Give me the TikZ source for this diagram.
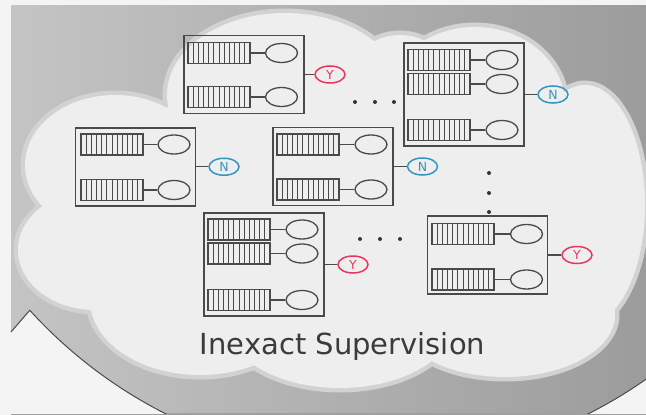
\documentclass[tikz,border=0pt]{standalone}
\usepackage{fontspec}
\setmainfont{DejaVu Sans}
\usepackage{tikz}
\usetikzlibrary{shapes.geometric}
\definecolor{ink}{HTML}{4A4A4A}
\definecolor{paper}{HTML}{F4F4F4}
\definecolor{fog}{HTML}{EEEEEE}
\definecolor{haze}{HTML}{D2D2D2}
\definecolor{bgl}{HTML}{C4C4C4}
\definecolor{bgr}{HTML}{9C9C9C}
\definecolor{yred}{HTML}{E8375E}
\definecolor{nblue}{HTML}{3595BD}

\begin{document}
\begin{tikzpicture}[x=1pt,y=-1pt,
 box/.style={rectangle,draw=ink,line width=1.6pt,inner sep=0pt,minimum width=120},
 pair/.style={box,minimum height=78},
 trio/.style={box,minimum height=103},
 queue/.style={rectangle,draw=ink,line width=1.3pt,inner sep=0pt,
 minimum width=62,minimum height=21,
 path picture={\foreach \k in {1,...,11}{
 \draw[ink,line width=0.9pt] ([xshift=\k*5.1667pt]path picture bounding box.south west)
 -- ([xshift=\k*5.1667pt]path picture bounding box.north west);}}},
 unit/.style={ellipse,draw=ink,line width=1.3pt,inner sep=0pt,minimum width=32,minimum height=19},
 ylab/.style={ellipse,draw=yred,text=yred,line width=1.5pt,inner sep=0pt,
 minimum width=30,minimum height=17,font=\fontsize{12.5}{13}\selectfont},
 nlab/.style={ylab,draw=nblue,text=nblue},
 link/.style={draw=ink,line width=1.3pt}]
\useasboundingbox (0,0) rectangle (646,415);
% backdrop
\fill[paper] (0,0) rectangle (646,415);
\shade[left color=bgl,right color=bgr] (11,5) rectangle (646,413);
\fill[gray!75] (11,413) rectangle (646,415);
\begin{scope}
 \clip (11,5) rectangle (646,413);
 \clip (11,332) -- (30,310) -- (700,-420) -- (700,500) -- (11,500) -- cycle;
 \fill[paper,even odd rule] (0,0) rectangle (646,415) (377,-5) circle[radius=469];
 \draw[ink,line width=1pt] (377,-5) circle[radius=469];
\end{scope}
\draw[ink,line width=1pt] (11,332) -- (30,310);
% cloud
\foreach \cx/\cy/\rx/\ry in {115/165/90/70,95/250/77/60,200/300/110/75,340/320/115/68,
 505/315/110/62,585/205/60/120,475/105/90/78,285/95/118/82,400/80/50/45,330/210/250/135}
 {\draw[haze,line width=9pt] (\cx,\cy) ellipse[x radius=\rx,y radius=\ry];}
\foreach \cx/\cy/\rx/\ry in {115/165/90/70,95/250/77/60,200/300/110/75,340/320/115/68,
 505/315/110/62,585/205/60/120,475/105/90/78,285/95/118/82,400/80/50/45,330/210/250/135}
 {\fill[fog] (\cx,\cy) ellipse[x radius=\rx,y radius=\ry];}
% bags
\node[pair] (ba) at (244,74.5) {};
\node[trio] (bb) at (464,94.5) {};
\node[pair] (bc) at (135.5,166.75) {};
\node[pair] (bd) at (333,166.5) {};
\node[trio] (be) at (264,264.5) {};
\node[pair] (bf) at (487.5,255) {};
% instances
\node[queue] (qa1) at (219,53) {};
\node[unit] (ua1) at (281.5,53) {};
\node[queue] (qa2) at (219,97) {};
\node[unit] (ua2) at (281.5,97) {};
\node[queue] (qb1) at (439,60) {};
\node[unit] (ub1) at (502,60) {};
\node[queue] (qb2) at (439,84) {};
\node[unit] (ub2) at (502,84) {};
\node[queue] (qb3) at (439,130) {};
\node[unit] (ub3) at (502,130) {};
\node[queue] (qc1) at (112,144.5) {};
\node[unit] (uc1) at (174,144.5) {};
\node[queue] (qc2) at (112,190) {};
\node[unit] (uc2) at (174,190) {};
\node[queue] (qd1) at (308,144.5) {};
\node[unit] (ud1) at (371,144.5) {};
\node[queue] (qd2) at (308,189.5) {};
\node[unit] (ud2) at (371,189.5) {};
\node[queue] (qe1) at (239,229.5) {};
\node[unit] (ue1) at (302,229.5) {};
\node[queue] (qe2) at (239,253.5) {};
\node[unit] (ue2) at (302,253.5) {};
\node[queue] (qe3) at (239,300) {};
\node[unit] (ue3) at (302,300) {};
\node[queue] (qf1) at (463,234) {};
\node[unit] (uf1) at (526.5,234) {};
\node[queue] (qf2) at (463,279.5) {};
\node[unit] (uf2) at (526.5,279.5) {};
% bag labels
\node[ylab] (la) at (330,74.5) {Y};
\node[nlab] (lb) at (553,94.5) {N};
\node[nlab] (lc) at (224,166.75) {N};
\node[nlab] (ld) at (422.5,166.5) {N};
\node[ylab] (le) at (353,264.5) {Y};
\node[ylab] (lf) at (577,255) {Y};
\foreach \q in {a1,a2,b1,b2,b3,c1,c2,d1,d2,e1,e2,e3,f1,f2}{\draw[link] (q\q) -- (u\q);}
\foreach \b in {a,b,c,d,e,f}{\draw[link] (b\b) -- (l\b);}
% ellipsis dots
\foreach \p in {(355,102),(375,102),(394,102),(489,173),(489,193),(489,212),
 (360,239),(380,239),(400,239)}{\fill[ink!70!black] \p circle[radius=2];}
\node[font=\fontsize{29}{34}\selectfont,text=ink!80!black,anchor=base] (cap) at (342.5,354) {Inexact Supervision};
\end{tikzpicture}
\end{document}
